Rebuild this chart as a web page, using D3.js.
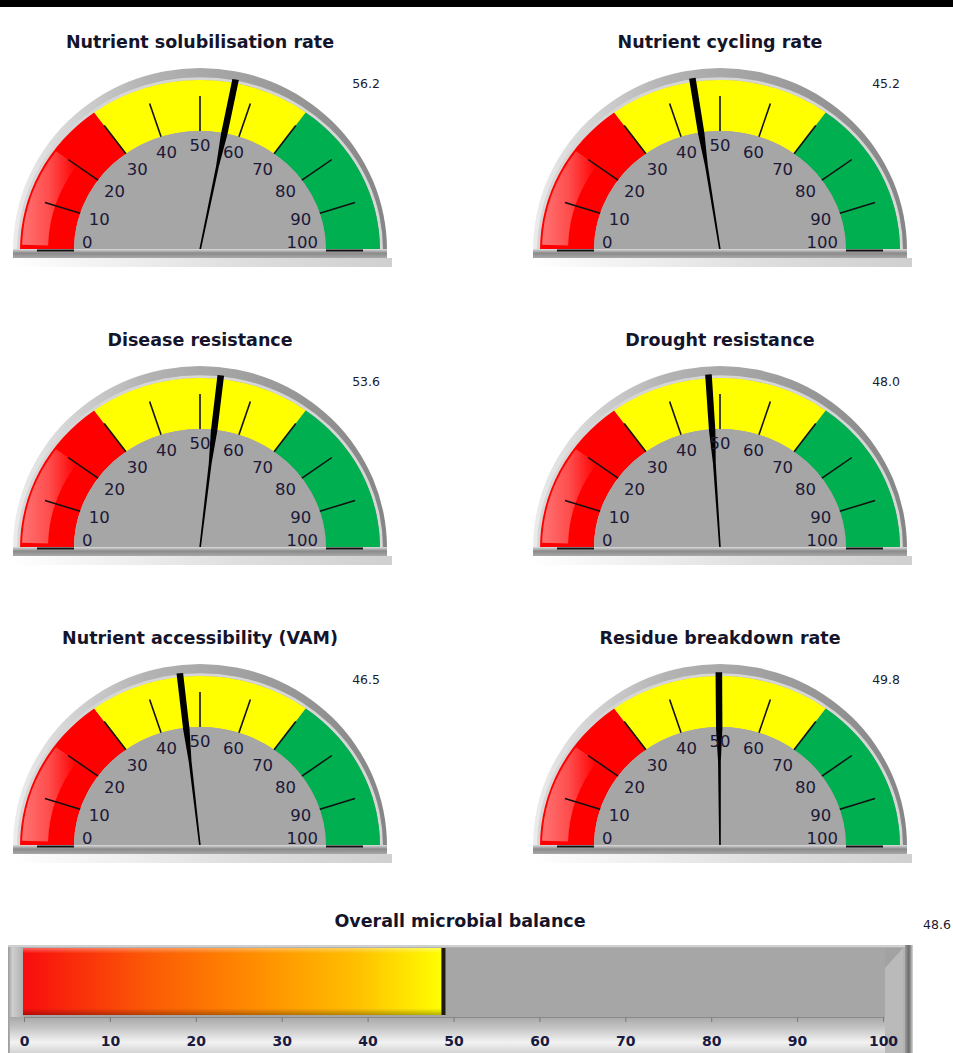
<!DOCTYPE html>
<html>
<head>
<meta charset="utf-8">
<script src="https://cdn.jsdelivr.net/npm/d3@7"></script>
<style>
  body { margin: 0; background: #fff; }
  svg { display: block; }
  .title { font-family: "DejaVu Sans", sans-serif; font-weight: 700; font-size: 17.5px; fill: #14142a; }
  .value { font-family: "DejaVu Sans", sans-serif; font-size: 12.5px; fill: #1a1a30; }
  .dial-label { font-family: "DejaVu Sans", sans-serif; font-size: 16.5px; fill: #1c1838; }
  .bar-axis text { font-family: "DejaVu Sans", sans-serif; font-weight: 700; font-size: 14px; fill: #1a1a40; }
</style>
</head>
<body>
<div id="chart"></div>
<script>
// gauge data
var gaugeTitles = [
  "Nutrient solubilisation rate", "Nutrient cycling rate",
  "Disease resistance", "Drought resistance",
  "Nutrient accessibility (VAM)", "Residue breakdown rate"
];
var gaugeValues = [56.2, 45.2, 53.6, 48.0, 46.5, 49.8];
var bandBreaks = [0, 30, 70, 100];
var bandColors = ["#ff0000", "#ffff00", "#00b050"];
var dialTicks = [0, 10, 20, 30, 40, 50, 60, 70, 80, 90, 100];

// overall bar data
var overallTitle = "Overall microbial balance";
var overallValue = 48.6;
var barTicks = [0, 10, 20, 30, 40, 50, 60, 70, 80, 90, 100];

var W = 953, H = 1053;
var colX = [200, 720];
var rowY = [250, 548, 846];
var R = { rim: 187, band: 180, face: 126, tickOut: 163, label: 118, needle: 184 };
var k = 170 / 180;   // dials are a little squashed vertically
var fmt = d3.format(".1f");

var svg = d3.select("#chart").append("svg")
  .attr("width", W)
  .attr("height", H);

var defs = svg.append("defs");

function linGrad(id, x2, y2, stops) {
  var g = defs.append("linearGradient").attr("id", id)
    .attr("x1", 0).attr("y1", 0).attr("x2", x2).attr("y2", y2);
  stops.forEach(function(s) {
    g.append("stop").attr("offset", s[0]).attr("stop-color", s[1])
      .attr("stop-opacity", s[2] == null ? 1 : s[2]);
  });
}
linGrad("rimGrad", 1, 0, [[0, "#ececec"], [0.35, "#b4b4b4"], [1, "#858585"]]);
linGrad("baseGrad", 0, 1, [[0, "#dcdcdc"], [0.45, "#8a8a8a"], [1, "#a8a8a8"]]);
linGrad("shadowGrad", 1, 0, [[0, "#ffffff"], [0.6, "#d6d6d6"], [1, "#c4c4c4"]]);
linGrad("glossGrad", 1, 0, [[0, "#ffffff", 0.45], [0.5, "#ffffff", 0.3], [1, "#ffffff", 0]]);
linGrad("barGrad", 1, 0, [[0, "#f80d0d"], [0.3, "#fb5a06"], [0.55, "#ff8c00"], [0.8, "#ffc000"], [1, "#ffff00"]]);
linGrad("barShade", 0, 1, [[0, "#ffffff", 0.35], [0.08, "#ffffff", 0], [0.9, "#000000", 0], [1, "#000000", 0.3]]);
linGrad("axisZone", 0, 1, [[0, "#a8a8a8"], [0.3, "#c4c4c4"], [0.7, "#f2f2f2"], [1, "#d4d4d4"]]);
linGrad("leftBevel", 1, 0, [[0, "#9a9a9a"], [0.3, "#cfcfcf"], [1, "#b0b0b0"]]);
linGrad("rightEdge", 1, 0, [[0, "#9a9a9a"], [0.5, "#6a6a6a"], [1, "#d8d8d8"]]);

// black strip along the top
svg.append("rect").attr("x", 0).attr("y", 0).attr("width", W).attr("height", 7).attr("fill", "#000");

var angle = d3.scaleLinear().domain([0, 100]).range([-Math.PI / 2, Math.PI / 2]);
var deg = function(v) { return angle(v) * 180 / Math.PI; };

// tapered needle: thick outer part, thin towards the hub
var needlePts = [[-0.8, 0], [-1.4, -90], [-3.2, -125], [-3.3, -R.needle],
                 [3.3, -R.needle], [3.2, -125], [1.4, -90], [0.8, 0]];

function drawGauge(cx, cy, title, value) {
  var g = svg.append("g");

  g.append("text").attr("class", "title")
    .attr("x", cx).attr("y", cy - 202)
    .attr("text-anchor", "middle")
    .text(title);

  g.append("text").attr("class", "value")
    .attr("x", cx + 180).attr("y", cy - 162)
    .attr("text-anchor", "end")
    .text(fmt(value));

  // soft shadow under the base
  g.append("rect")
    .attr("x", cx - 190).attr("y", cy + 8)
    .attr("width", 382).attr("height", 9)
    .attr("fill", "url(#shadowGrad)").attr("opacity", 0.8);

  // outer rim
  g.append("path")
    .attr("transform", "translate(" + cx + "," + cy + ") scale(1," + (182 / R.rim) + ")")
    .attr("d", d3.arc()({ innerRadius: 0, outerRadius: R.rim, startAngle: -Math.PI / 2, endAngle: Math.PI / 2 }))
    .attr("fill", "url(#rimGrad)");

  var dial = g.append("g")
    .attr("transform", "translate(" + cx + "," + cy + ") scale(1," + k + ")");

  dial.append("path")
    .attr("d", d3.arc()({ innerRadius: R.band, outerRadius: R.band + 3, startAngle: -Math.PI / 2, endAngle: Math.PI / 2 }))
    .attr("fill", "#d6d6d6");

  for (var i = 0; i < bandColors.length; i++) {
    dial.append("path")
      .attr("d", d3.arc()({
        innerRadius: R.face, outerRadius: R.band,
        startAngle: angle(bandBreaks[i]), endAngle: angle(bandBreaks[i + 1])
      }))
      .attr("fill", bandColors[i]);
  }

  // glossy highlight on the red band
  dial.append("path")
    .attr("d", d3.arc()({ innerRadius: 152, outerRadius: R.band - 2, startAngle: angle(1), endAngle: angle(20) }))
    .attr("fill", "url(#glossGrad)");

  dial.append("path")
    .attr("d", d3.arc()({ innerRadius: 0, outerRadius: R.face, startAngle: -Math.PI / 2, endAngle: Math.PI / 2 }))
    .attr("fill", "#a6a6a6");

  dial.selectAll("line.tick")
    .data(dialTicks)
    .enter().append("line")
      .attr("class", "tick")
      .attr("x1", 0).attr("x2", 0)
      .attr("y1", -R.face).attr("y2", -R.tickOut)
      .attr("transform", function(d) { return "rotate(" + deg(d) + ")"; })
      .attr("stroke", "#111")
      .attr("stroke-width", 1.6);

  // base strip
  g.append("rect")
    .attr("x", cx - R.rim).attr("y", cy - 1)
    .attr("width", 2 * R.rim).attr("height", 9)
    .attr("fill", "url(#baseGrad)");

  // 0 and 100 ticks sit on the base
  [0, 100].forEach(function(t) {
    var s = t === 0 ? -1 : 1;
    g.append("line")
      .attr("x1", cx + s * R.face).attr("x2", cx + s * R.tickOut)
      .attr("y1", cy + 0.5).attr("y2", cy + 0.5)
      .attr("stroke", "#111").attr("stroke-width", 2);
  });

  // dial labels, tucked inside the face
  dialTicks.forEach(function(t) {
    var a = angle(t);
    var dx = Math.sin(a), dy = -Math.cos(a);
    var txt = g.append("text").attr("class", "dial-label")
      .attr("text-anchor", "middle")
      .text(t);
    var w = txt.node().getComputedTextLength();
    var h = 13;
    var r = R.label - (w / 2 * Math.abs(dx) + h / 2 * Math.abs(dy));
    var x = cx + r * dx;
    var y = cy + r * dy * k;
    y = Math.min(y, cy - h / 2 - 1);
    txt.attr("x", x).attr("y", y).attr("dy", "0.36em");
  });

  // needle
  dial.append("path")
    .attr("d", d3.line()(needlePts) + "Z")
    .attr("transform", "rotate(" + deg(value) + ")")
    .attr("fill", "#000");
}

gaugeTitles.forEach(function(t, i) {
  drawGauge(colX[i % 2], rowY[Math.floor(i / 2)], t, gaugeValues[i]);
});

// ---- overall bar ----
var bx = d3.scaleLinear().domain([0, 100]).range([24, 883]);
var bar = svg.append("g");

bar.append("text").attr("class", "title")
  .attr("x", 460).attr("y", 927)
  .attr("text-anchor", "middle")
  .text(overallTitle);

bar.append("text").attr("class", "value")
  .attr("x", 923).attr("y", 929)
  .text(fmt(overallValue));

bar.append("rect").attr("x", 8).attr("y", 945).attr("width", 897).attr("height", H - 945).attr("fill", "#b2b2b2");
bar.append("rect").attr("x", 8).attr("y", 945).attr("width", 15).attr("height", H - 945).attr("fill", "url(#leftBevel)");
bar.append("rect").attr("x", 905).attr("y", 945).attr("width", 8).attr("height", H - 945).attr("fill", "url(#rightEdge)");
bar.append("rect").attr("x", 8).attr("y", 945).attr("width", 897).attr("height", 2).attr("fill", "#d0d0d0");

bar.append("rect")
  .attr("x", 23).attr("y", 948)
  .attr("width", 862).attr("height", 69)
  .attr("fill", "#a6a6a6");

bar.append("path")
  .attr("d", "M885,948 L903,948 L903," + H + " L885," + H + " Z")
  .attr("fill", "#bababa");
bar.append("path")
  .attr("d", "M885,948 L903,948 L885,968 Z")
  .attr("fill", "#a2a2a2");

bar.append("rect")
  .attr("x", 10).attr("y", 1017)
  .attr("width", 875).attr("height", H - 1017)
  .attr("fill", "url(#axisZone)");

bar.append("rect")
  .attr("x", bx(0) - 1).attr("y", 948)
  .attr("width", bx(overallValue) - bx(0) + 1).attr("height", 67)
  .attr("fill", "url(#barGrad)");
bar.append("rect")
  .attr("x", bx(0) - 1).attr("y", 948)
  .attr("width", bx(overallValue) - bx(0) + 1).attr("height", 67)
  .attr("fill", "url(#barShade)");
bar.append("rect")
  .attr("x", bx(overallValue)).attr("y", 948)
  .attr("width", 4).attr("height", 67)
  .attr("fill", "#1e1a10");

var axis = bar.append("g")
  .attr("class", "bar-axis")
  .attr("transform", "translate(0,1017)")
  .call(d3.axisBottom(bx).tickValues(barTicks).tickSize(5).tickPadding(14).tickSizeOuter(0));
axis.select(".domain").attr("stroke", "#8a8a8a");
axis.selectAll(".tick line").attr("stroke", "#7a7a7a");
</script>
</body>
</html>
